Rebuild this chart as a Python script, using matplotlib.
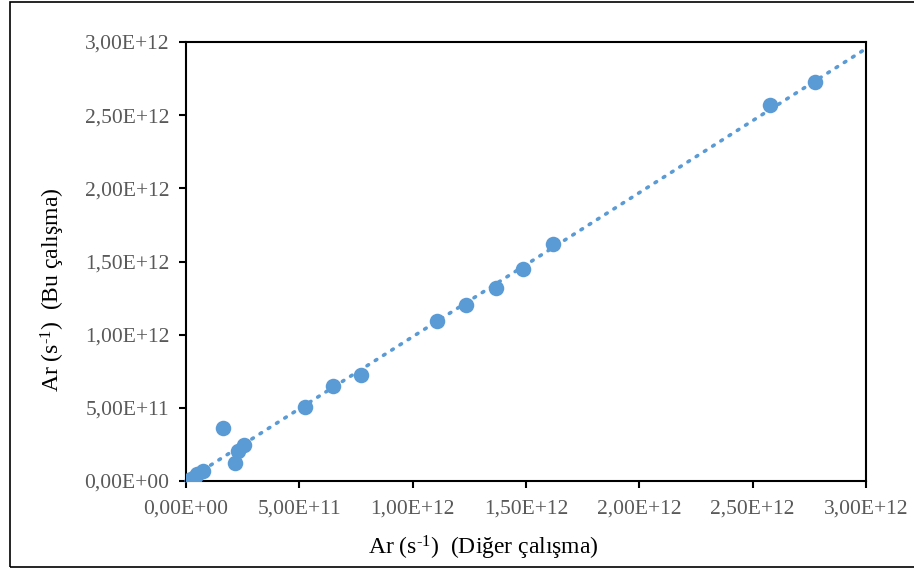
import numpy as np
import matplotlib
matplotlib.use("Agg")
import matplotlib.pyplot as plt
from matplotlib.ticker import FuncFormatter
from matplotlib.patches import Rectangle

# Data (units of s^-1)
x_other = [0.003e12, 0.02e12, 0.04e12, 0.05e12, 0.075e12, 0.163e12, 0.216e12, 0.229e12,
           0.256e12, 0.525e12, 0.649e12, 0.772e12, 1.107e12, 1.235e12, 1.368e12,
           1.487e12, 1.619e12, 2.576e12, 2.775e12]
y_this = [0.003e12, 0.015e12, 0.03e12, 0.045e12, 0.068e12, 0.362e12, 0.123e12, 0.205e12,
          0.246e12, 0.506e12, 0.649e12, 0.724e12, 1.093e12, 1.203e12, 1.319e12,
          1.449e12, 1.620e12, 2.569e12, 2.727e12]
x_ticks = [0, 0.5e12, 1.0e12, 1.5e12, 2.0e12, 2.5e12, 3.0e12]
y_ticks = [0, 0.5e12, 1.0e12, 1.5e12, 2.0e12, 2.5e12, 3.0e12]

plt.rcParams['font.family'] = ['Liberation Serif', 'DejaVu Serif']
plt.rcParams['mathtext.fontset'] = 'custom'
plt.rcParams['mathtext.rm'] = 'Liberation Serif'
plt.rcParams['mathtext.it'] = 'Liberation Serif:italic'

W, H = 914, 569
fig = plt.figure(figsize=(W/100, H/100), dpi=100)
ax = fig.add_axes([186/W, 1-481/H, 680/W, 439/H])

color = '#5B9BD5'
ax.scatter(x_other, y_this, s=125, color=color, zorder=3, linewidths=0)

# linear trendline
coef = np.polyfit(x_other, y_this, 1)
xt = np.array([0, 3.0e12])
ax.plot(xt, np.polyval(coef, xt), linestyle=(0, (0.5, 2.2)), color=color,
        linewidth=2.6, dash_capstyle='round', zorder=2, clip_on=False)

ax.set_xlim(0, 3.0e12)
ax.set_ylim(0, 3.0e12)
ax.set_xticks(x_ticks)
ax.set_yticks(y_ticks)

def fmt(v, pos):
    if v == 0:
        return '0,00E+00'
    exp = int(np.floor(np.log10(abs(v))))
    mant = v / 10**exp
    return f"{mant:.2f}".replace('.', ',') + f"E+{exp:02d}"

ax.xaxis.set_major_formatter(FuncFormatter(fmt))
ax.yaxis.set_major_formatter(FuncFormatter(fmt))

for s in ax.spines.values():
    s.set_linewidth(1.5)
    s.set_color('black')
ax.tick_params(direction='out', length=5, width=1.5, labelsize=15.5, labelcolor='#595959',
               color='black')
ax.tick_params(axis='y', pad=7)
ax.tick_params(axis='x', pad=8)

fig.text(483/W, 1-548/H, r'Ar (s$^{\mathrm{\text{-}1}}$)  (Diğer çalışma)', fontsize=17,
         ha='center', va='center', color='black')
fig.text(53/W, 1-290/H, r'Ar (s$^{\mathrm{\text{-}1}}$)  (Bu çalışma)', fontsize=17,
         ha='center', va='center', rotation=90, color='black')

# figure border
fig.patches.append(Rectangle((10/W, 2/H), 910/W, 565/H, transform=fig.transFigure,
                             fill=False, edgecolor='black', linewidth=1.2))

fig.savefig('out.png', dpi=100)
